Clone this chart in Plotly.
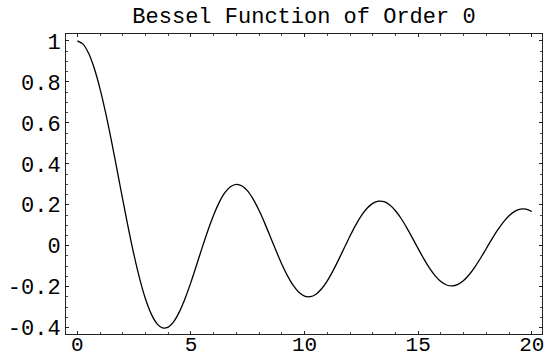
import plotly.graph_objects as go

# Sampled values of J0(x) on 0..20, step 0.25
x_vals = [i * 0.25 for i in range(81)]
j0_vals = [
    1.00000, 0.98444, 0.93847, 0.86424, 0.76520, 0.64591, 0.51183, 0.36903,
    0.22389, 0.08275, -0.04838, -0.16417, -0.26005, -0.33275, -0.38013, -0.40142,
    -0.39715, -0.36923, -0.32054, -0.25512, -0.17760, -0.09309, -0.00684, 0.07597,
    0.15065, 0.21306, 0.26009, 0.28941, 0.30008, 0.29198, 0.26634, 0.22523,
    0.17165, 0.10920, 0.04194, -0.02593, -0.09033, -0.14740, -0.19393, -0.22732,
    -0.24594, -0.24895, -0.23665, -0.21002, -0.17119, -0.12258, -0.06765, -0.00958,
    0.04769, 0.10101, 0.14695, 0.18294, 0.20693, 0.21777, 0.21499, 0.19902,
    0.17107, 0.13308, 0.08755, 0.03739, -0.01422, -0.06411, -0.10923, -0.14689,
    -0.17490, -0.19171, -0.19638, -0.18889, -0.16985, -0.14061, -0.10311, -0.05977,
    -0.01336, 0.03325, 0.07717, 0.11573, 0.14663, 0.16807, 0.17885, 0.17845,
    0.16703,
]

x_ticks = [0, 5, 10, 15, 20]
x_ticktext = ["0", "5", "10", "15", "20"]
y_ticks = [-0.4, -0.2, 0, 0.2, 0.4, 0.6, 0.8, 1.0]
y_ticktext = ["-0.4", "-0.2", "0", "0.2", "0.4", "0.6", "0.8", "1"]

FONT = "Liberation Mono, Courier New, monospace"

fig = go.Figure()
fig.add_trace(go.Scatter(
    x=x_vals, y=j0_vals, mode="lines",
    line=dict(color="black", width=1.3, shape="spline", smoothing=0.8),
    hoverinfo="skip", showlegend=False,
))

axis_common = dict(
    showgrid=False, zeroline=False, automargin=False,
    showline=True, linecolor="#222", linewidth=1,
    mirror="allticks", ticks="inside", ticklen=3, tickwidth=1, tickcolor="#222",
)

fig.update_xaxes(
    range=[-0.5, 20.45], tickvals=x_ticks, ticktext=x_ticktext,
    minor=dict(ticks="inside", dtick=1, tick0=0, ticklen=2, tickcolor="#444", showgrid=False),
    tickfont=dict(family=FONT, size=21, color="black"),
    ticklabelstandoff=-9,
    **axis_common,
)
fig.update_yaxes(
    range=[-0.431, 1.034], tickvals=y_ticks, ticktext=y_ticktext,
    minor=dict(ticks="inside", dtick=0.05, tick0=0, ticklen=2, tickcolor="#444", showgrid=False),
    tickfont=dict(family=FONT, size=22, color="black"),
    ticklabelstandoff=0,
    **axis_common,
)

fig.update_layout(
    width=545, height=358,
    margin=dict(l=66, r=3, t=34, b=24),
    paper_bgcolor="white", plot_bgcolor="white",
    title=dict(text="Bessel Function of Order 0", x=0.5, xref="paper",
               y=1 - 15 / 358, yanchor="middle",
               font=dict(family=FONT, size=22, color="black")),
)

fig.write_html("out.html")
